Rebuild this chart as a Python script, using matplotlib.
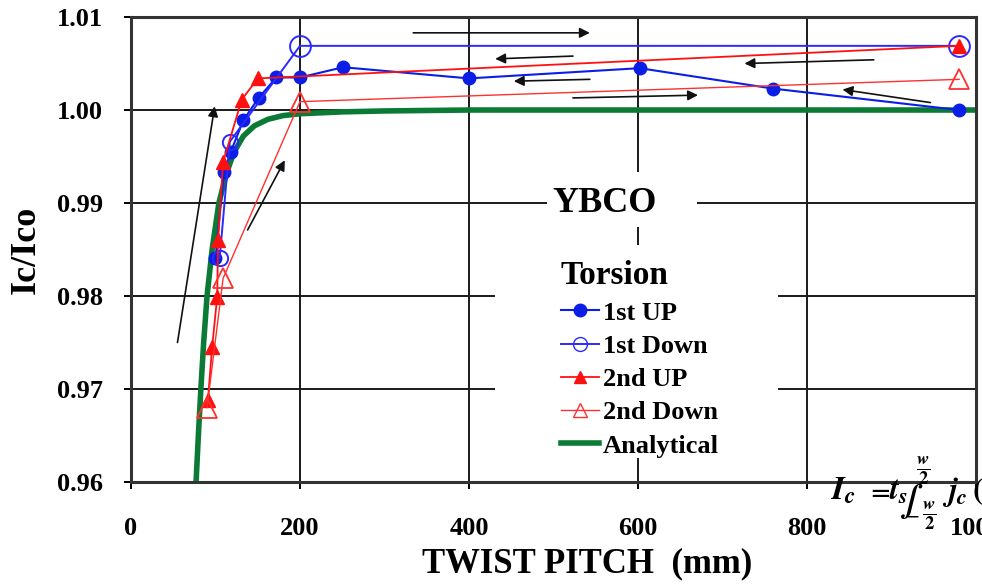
import matplotlib
matplotlib.use("Agg")
import matplotlib.pyplot as plt
from matplotlib.patches import Rectangle
from matplotlib.lines import Line2D
from matplotlib.ticker import FormatStrFormatter

plt.rcParams["font.family"] = ["Liberation Serif", "DejaVu Serif"]
plt.rcParams["font.weight"] = "bold"
plt.rcParams["mathtext.fontset"] = "stix"

# twist pitch (mm) vs normalised critical current
up1_x = [100, 110, 118, 133, 151, 172, 200, 251, 400, 602, 760, 980]
up1_y = [0.9841, 0.9933, 0.9955, 0.9989, 1.0013, 1.0035, 1.0035, 1.0046, 1.0034, 1.0045, 1.0023, 1.0000]

down1_x = [980, 200, 117, 105]
down1_y = [1.0069, 1.0069, 0.9966, 0.9841]

up2_x = [91, 96, 102, 103, 109, 131, 150, 980]
up2_y = [0.9688, 0.9745, 0.9799, 0.9860, 0.9944, 1.0011, 1.0034, 1.0069]

down2_x = [90, 109, 200, 980]
down2_y = [0.9680, 0.9819, 1.0009, 1.0033]

analytic_x = [77, 80, 83, 86, 90, 96, 104, 113, 122, 133, 146, 162, 180, 200, 250, 300, 400, 600, 800, 1000]
analytic_y = [0.9600, 0.9655, 0.9705, 0.9750, 0.9800, 0.9850, 0.9900, 0.9932, 0.9955, 0.9972, 0.9983,
              0.9990, 0.9994, 0.9996, 0.9998, 0.9999, 1.0000, 1.0000, 1.0000, 1.0000]

x_ticks = [0, 200, 400, 600, 800, 1000]
y_ticks = [0.96, 0.97, 0.98, 0.99, 1.00, 1.01]

BLUE = "#0a1ee6"
BLUE2 = "#2a2aff"
RED = "#ff1010"
RED2 = "#ff3030"
GREEN = "#0a7a35"

fig = plt.figure(figsize=(9.82, 5.85), dpi=100)
ax = fig.add_axes([0.1334, 0.1761, 0.8605, 0.7948])
ax.set_xlim(0, 1000)
ax.set_ylim(0.96, 1.01)
ax.set_xticks(x_ticks)
ax.set_yticks(y_ticks)
ax.yaxis.set_major_formatter(FormatStrFormatter("%.2f"))
ax.set_axisbelow(True)
ax.grid(True, color="#1a1a1a", lw=1.4)
for s in ax.spines.values():
    s.set_linewidth(2.2)
    s.set_color("#333333")
ax.tick_params(axis="both", direction="out", length=5, width=1.4, labelsize=19)
ax.tick_params(axis="x", pad=20)
ax.tick_params(axis="y", pad=15)

# white panels under the material label and the legend
ax.add_patch(Rectangle((492, 0.98742), 178, 0.00591, fc="white", ec="none", zorder=1))
ax.add_patch(Rectangle((431, 0.96258), 335, 0.0229, fc="white", ec="none", zorder=1))

ax.plot(analytic_x, analytic_y, color=GREEN, lw=4.0, zorder=2, solid_capstyle="butt")

ax.plot(up1_x, up1_y, color=BLUE, lw=1.5, marker="o", ms=9, mfc=BLUE, mec=BLUE, zorder=3)
ax.plot(down1_x, down1_y, color=BLUE2, lw=1.4, zorder=3)
ax.plot(down1_x[:2], down1_y[:2], ls="none", marker="o", ms=15, mfc="none", mec=BLUE2, mew=1.4, zorder=4)
ax.plot(down1_x[2:], down1_y[2:], ls="none", marker="o", ms=11, mfc="none", mec=BLUE2, mew=1.4, zorder=4)
ax.plot(up2_x, up2_y, color=RED, lw=1.3, marker="^", ms=10, mfc=RED, mec=RED, zorder=4)
ax.plot(down2_x, down2_y, color=RED2, lw=1.0, marker="^", ms=15, mfc="none", mec=RED2, mew=1.3, zorder=4)

arrows = [
    ((55, 0.9750), (99, 1.0004)),
    ((138, 0.9871), (182, 0.9946)),
    ((334, 1.0083), (543, 1.0083)),
    ((523, 1.0058), (431, 1.0055)),
    ((543, 1.0033), (453, 1.0031)),
    ((523, 1.0013), (671, 1.0016)),
    ((879, 1.0054), (726, 1.0050)),
    ((946, 1.0008), (842, 1.0022)),
]
for tail, head in arrows:
    ax.annotate("", xy=head, xytext=tail,
                arrowprops=dict(arrowstyle="-|>", color="#111111", lw=1.2,
                                mutation_scale=15, shrinkA=0, shrinkB=0),
                zorder=5)

ax.text(561, 0.9900, "YBCO", ha="center", va="center", fontsize=26, fontweight="bold", zorder=5)

handles = [
    Line2D([], [], color=BLUE, lw=1.5, marker="o", ms=9, mfc=BLUE, mec=BLUE, label="1st UP"),
    Line2D([], [], color=BLUE2, lw=1.4, marker="o", ms=10, mfc="none", mec=BLUE2, label="1st Down"),
    Line2D([], [], color=RED, lw=1.3, marker="^", ms=9, mfc=RED, mec=RED, label="2nd UP"),
    Line2D([], [], color=RED2, lw=1.0, marker="^", ms=10, mfc="none", mec=RED2, label="2nd Down"),
    Line2D([], [], color=GREEN, lw=4.0, label="Analytical"),
]
leg = ax.legend(handles=handles, title="Torsion", loc="upper left",
                bbox_to_anchor=(0.493, 0.505), frameon=False, borderpad=0,
                fontsize=19, title_fontsize=24, handlelength=1.45,
                handletextpad=0.15, labelspacing=0.37, alignment="left")
leg.get_title().set_fontweight("bold")
leg.set_zorder(6)

ax.set_xlabel("TWIST PITCH  (mm)", fontsize=25, fontweight="bold", labelpad=5.5, x=0.54)
ax.set_ylabel("Ic/Ico", fontsize=26, fontweight="bold", labelpad=10)

# Ic formula in the lower right corner, running off the edge
W, H = 982.0, 585.0
def ftext(px, py, s, **kw):
    fig.text(px / W, 1 - py / H, s, **kw)

ftext(830, 500, r"$I_c$", fontsize=24, va="baseline")
ftext(866, 498, r"$=$", fontsize=19, va="baseline")
ftext(889, 500, r"$t_s$", fontsize=23, va="baseline")
ftext(899, 509, r"$\int$", fontsize=22, va="baseline")
ftext(923, 471, r"$\frac{w}{2}$", fontsize=19, ha="center", va="center")
ftext(913, 515, r"$-$", fontsize=12, ha="center", va="center")
ftext(929, 516, r"$\frac{w}{2}$", fontsize=19, ha="center", va="center")
ftext(942, 500, r"$j_c\,(\varepsilon$", fontsize=23, va="baseline")

fig.savefig("out.png", dpi=100)
plt.close(fig)
